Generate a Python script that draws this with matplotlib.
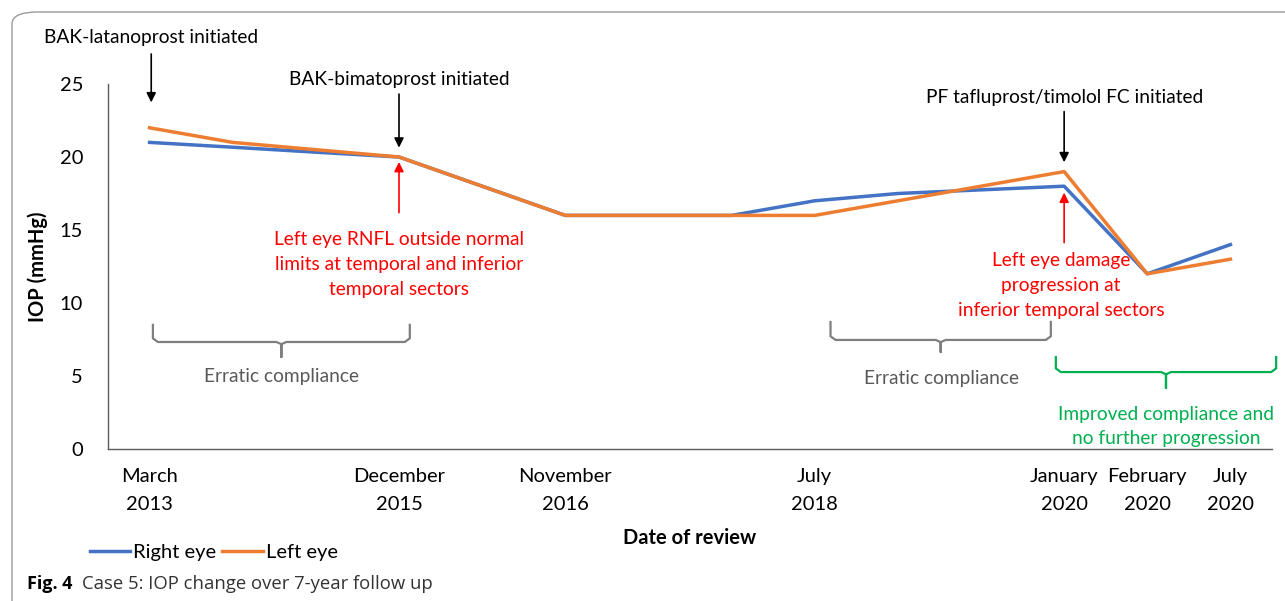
import matplotlib
matplotlib.use('Agg')
import matplotlib.pyplot as plt
from matplotlib.patches import FancyBboxPatch

# ----------------------------
# Data (14 evenly spaced review slots, only some labelled)
# ----------------------------
tick_labels = ['March\n2013', '', '', 'December\n2015', '', 'November\n2016', '', '',
               'July\n2018', '', '', 'January\n2020', 'February\n2020', 'July\n2020']
right_eye = [21, 20.67, 20.33, 20, 18, 16, 16, 16, 17, 17.5, 17.75, 18, 12, 14]
left_eye = [22, 21, 20.5, 20, 18, 16, 16, 16, 16, 17, 18, 19, 12, 13]

BLUE = '#4472C4'
ORANGE = '#ED7D31'
RED = '#FF0000'
GREEN = '#00B050'
GRAY = '#595959'

plt.rcParams['font.family'] = ['Lato', 'DejaVu Sans']

W, H = 1285, 601
fig = plt.figure(figsize=(W / 100, H / 100), dpi=100)

def fx(px):
    return px / W

def fy(py):
    return 1 - py / H

# outer frame
frame = FancyBboxPatch((fx(12), fy(640)), fx(1320), fy(12) - fy(640),
                       boxstyle='round,pad=0,rounding_size=0.02',
                       transform=fig.transFigure, fill=False, ec='#9a9a9a', lw=1.0)
fig.patches.append(frame)

ax = fig.add_axes([fx(108), fy(449), fx(1272) - fx(108), fy(84) - fy(449)])
x = list(range(len(tick_labels)))
ax.plot(x, right_eye, color=BLUE, lw=2.5, label='Right eye')
ax.plot(x, left_eye, color=ORANGE, lw=2.5, label='Left eye')

ax.set_xlim(-0.5, 13.5)
ax.set_ylim(0, 25)
ax.set_yticks([0, 5, 10, 15, 20, 25])
ax.set_xticks(x)
ax.set_xticklabels(tick_labels, fontsize=14.5, linespacing=1.75)
ax.tick_params(axis='both', length=0, labelsize=14.5, colors='black')
ax.tick_params(axis='x', pad=14)
ax.tick_params(axis='y', pad=18)
for s in ['top', 'right']:
    ax.spines[s].set_visible(False)
for s in ['left', 'bottom']:
    ax.spines[s].set_color('#5a5a5a')
    ax.spines[s].set_linewidth(1.0)

ax.set_xlabel('Date of review', fontsize=14.5, fontweight='bold', labelpad=11)
ax.set_ylabel('IOP (mmHg)', fontsize=14.5, fontweight='bold', labelpad=8)

# ----------------------------
# Treatment arrows (black) and findings (red)
# ----------------------------
def down_arrow(xi, y_tip, y_start, txt, ty, color='black'):
    ax.annotate('', xy=(xi, y_tip), xytext=(xi, y_start),
                arrowprops=dict(arrowstyle='-|>', color=color, lw=1.2, mutation_scale=14),
                annotation_clip=False)
    if txt:
        ax.text(xi, ty, txt, ha='center', va='center', fontsize=13.8, color=color, clip_on=False)

down_arrow(0.02, left_eye[0] + 1.55, 27.25, 'BAK-latanoprost initiated', 28.2)
down_arrow(3, left_eye[3] + 0.45, 24.5, 'BAK-bimatoprost initiated', 25.3)
down_arrow(11, left_eye[11] + 0.45, 23.3, 'PF tafluprost/timolol FC initiated', 24.1)

ax.annotate('', xy=(3, left_eye[3] - 0.15), xytext=(3, 16.0),
            arrowprops=dict(arrowstyle='-|>', color=RED, lw=1.2, mutation_scale=14))
ax.annotate('', xy=(11, right_eye[11] - 0.25), xytext=(11, 13.95),
            arrowprops=dict(arrowstyle='-|>', color=RED, lw=1.2, mutation_scale=14))

ax.text(3, 12.65, 'Left eye RNFL outside normal\nlimits at temporal and inferior\ntemporal sectors',
        ha='center', va='center', fontsize=13.8, color=RED, linespacing=1.55)
ax.text(10.96, 11.2, 'Left eye damage\nprogression at\ninferior temporal sectors',
        ha='center', va='center', fontsize=13.8, color=RED, linespacing=1.55)

# ----------------------------
# Braces for compliance periods
# ----------------------------
def brace(x0, x1, ytop, ybar, ytip, color):
    xm = (x0 + x1) / 2
    dx = 0.06
    dy = 0.25
    xs = [x0, x0, x0 + dx, xm - dx, xm, xm, xm, xm + dx, x1 - dx, x1, x1]
    ys = [ytop, ybar + dy, ybar, ybar, ybar - dy * 0.6, ytip, ybar - dy * 0.6, ybar, ybar, ybar + dy, ytop]
    ax.plot(xs, ys, color=color, lw=1.6, clip_on=False, solid_joinstyle='round')

brace(0.04, 3.13, 8.5, 7.33, 6.3, '#7f7f7f')
brace(8.19, 10.84, 8.7, 7.47, 6.64, '#7f7f7f')
brace(10.9, 13.55, 6.3, 5.27, 4.18, GREEN)

ax.text(1.59, 4.95, 'Erratic compliance', ha='center', va='center', fontsize=13.8, color=GRAY)
ax.text(9.52, 4.8, 'Erratic compliance', ha='center', va='center', fontsize=13.8, color=GRAY)
ax.text(12.23, 1.55, 'Improved compliance and\nno further progression', ha='center', va='center',
        fontsize=13.8, color=GREEN, linespacing=1.5, clip_on=False)

# ----------------------------
# Legend and caption
# ----------------------------
fig.legend(loc='center left', bbox_to_anchor=(fx(90), fy(552)), ncol=2, frameon=False,
           fontsize=14.5, handlelength=2.0, handletextpad=0.15, columnspacing=0.3,
           borderaxespad=0, borderpad=0)

fig.text(fx(27), fy(584), 'Fig. 4', fontsize=13, fontweight='bold', va='center',
         family=['Open Sans', 'DejaVu Sans'])
fig.text(fx(82), fy(584), 'Case 5: IOP change over 7-year follow up', fontsize=13.3, va='center',
         color='#333333', family=['Open Sans', 'DejaVu Sans'])

fig.savefig('out.png', dpi=100)
